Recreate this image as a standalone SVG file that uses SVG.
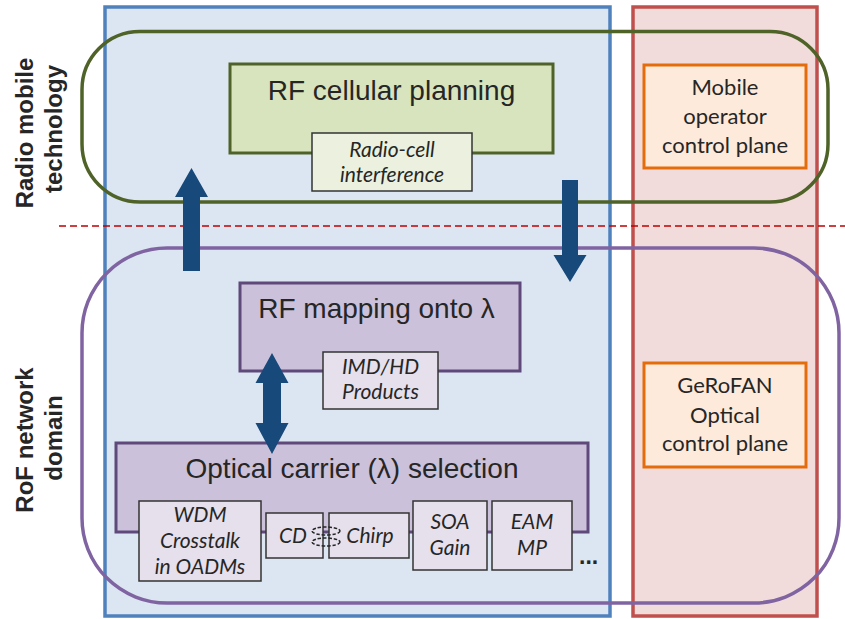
<svg xmlns="http://www.w3.org/2000/svg" width="845" height="619" viewBox="0 0 845 619">
<style>
.big{font-family:"Liberation Sans",Arial,sans-serif;font-size:28px;fill:#262626;text-anchor:middle}
.side{font-family:"Liberation Sans",Arial,sans-serif;font-size:24px;font-weight:bold;fill:#262626;text-anchor:middle}
.cal{font-family:Lato,"Open Sans",sans-serif;font-size:22px;fill:#262626;text-anchor:middle}
.it{font-family:Lato,"Open Sans",sans-serif;font-size:21px;font-style:italic;fill:#262626;text-anchor:middle}
.sub{stroke:#333333;stroke-width:1.5}
.purp{fill:#ccc1da;stroke:#5f497a;stroke-width:3}
.subp{fill:#e5e0ec}
.arrow{fill:#17497a}
</style>
<g id="panels">
<rect id="panel-blue" x="105" y="7" width="505" height="609" fill="#dce6f2" stroke="#4f81bd" stroke-width="3.5"/>
<rect id="panel-red" x="633" y="7" width="184" height="609" fill="#f2dcdb" stroke="#c0504d" stroke-width="3.5"/>
</g>
<g id="domains">
<rect id="radio-domain" x="82" y="31.5" width="746" height="170.5" rx="58" ry="58" fill="none" stroke="#4f6228" stroke-width="3.5"/>
<line id="divider" x1="59" y1="226" x2="845" y2="226" stroke="#c00000" stroke-width="1.3" stroke-dasharray="7,4"/>
<rect id="rof-domain" x="82" y="248" width="757" height="355" rx="85" ry="85" fill="none" stroke="#8064a2" stroke-width="3.5"/>
</g>
<g id="side-labels">
<text class="side" transform="translate(33,133) rotate(-90)">Radio mobile</text>
<text class="side" transform="translate(62,129) rotate(-90)">technology</text>
<text class="side" transform="translate(33,440) rotate(-90)">RoF network</text>
<text class="side" transform="translate(62,438) rotate(-90)">domain</text>
</g>
<g id="rf-cellular">
<rect x="230" y="64" width="323" height="89" fill="#d7e4bd" stroke="#4f6228" stroke-width="3"/>
<text class="big" x="391.5" y="100">RF cellular planning</text>
</g>
<g id="radio-cell">
<rect class="sub" x="312" y="133" width="160" height="58" fill="#ebf1de"/>
<text class="it" x="392" y="157">Radio-cell</text>
<text class="it" x="392" y="182">interference</text>
</g>
<g id="mobile-operator">
<rect x="644" y="65" width="162" height="103" fill="#fdeada" stroke="#e46c0a" stroke-width="3"/>
<text class="cal" x="725" y="95">Mobile</text>
<text class="cal" x="725" y="123.5">operator</text>
<text class="cal" x="725" y="152.5">control plane</text>
</g>
<g id="rf-mapping">
<rect class="purp" x="240" y="283" width="280" height="88"/>
<text class="big" x="376.5" y="318">RF mapping onto λ</text>
</g>
<g id="imd-hd">
<rect class="sub subp" x="323" y="352" width="115" height="57"/>
<text class="it" x="380.5" y="374">IMD/HD</text>
<text class="it" x="380.5" y="399">Products</text>
</g>
<g id="gerofan">
<rect x="644" y="363" width="162" height="104" fill="#fdeada" stroke="#e46c0a" stroke-width="3"/>
<text class="cal" x="725" y="393">GeRoFAN</text>
<text class="cal" x="725" y="422.5">Optical</text>
<text class="cal" x="725" y="451">control plane</text>
</g>
<g id="optical-carrier">
<rect class="purp" x="116" y="443" width="472" height="89"/>
<text class="big" x="352" y="478">Optical carrier (λ) selection</text>
</g>
<g id="wdm">
<rect class="sub subp" x="139" y="501" width="122" height="80"/>
<text class="it" x="200" y="522">WDM</text>
<text class="it" x="200" y="548">Crosstalk</text>
<text class="it" x="200" y="574">in OADMs</text>
</g>
<g id="cd">
<rect class="sub subp" x="266" y="513" width="57" height="45"/>
<text class="it" x="293" y="543">CD</text>
</g>
<g id="chirp">
<rect class="sub subp" x="329" y="513" width="80" height="45"/>
<text class="it" x="370" y="543">Chirp</text>
</g>
<g id="coupling" fill="none" stroke="#262626" stroke-width="1.5" stroke-dasharray="3.5,1.8">
<ellipse cx="326" cy="531" rx="14" ry="4"/>
<ellipse cx="326" cy="542" rx="14" ry="4"/>
</g>
<g id="soa">
<rect class="sub subp" x="413" y="501" width="74" height="69"/>
<text class="it" x="450" y="529">SOA</text>
<text class="it" x="450" y="555">Gain</text>
</g>
<g id="eam">
<rect class="sub subp" x="492" y="501" width="80" height="69"/>
<text class="it" x="532" y="529">EAM</text>
<text class="it" x="532" y="555">MP</text>
</g>
<g id="more">
<text x="579" y="564" font-family="Liberation Sans,Arial,sans-serif" font-size="23" font-weight="bold" fill="#262626">...</text>
</g>
<g id="connectors">
<polygon class="arrow" points="183,271 183,197 175,197 191.5,168 208,197 200,197 200,271"/>
<polygon class="arrow" points="562,180 578,180 578,255 586.5,255 570,282 553.5,255 562,255"/>
<polygon class="arrow" points="272,353 288.5,383 281,383 281,423 288.5,423 272,454 255.5,423 263,423 263,383 255.5,383"/>
</g>
</svg>
